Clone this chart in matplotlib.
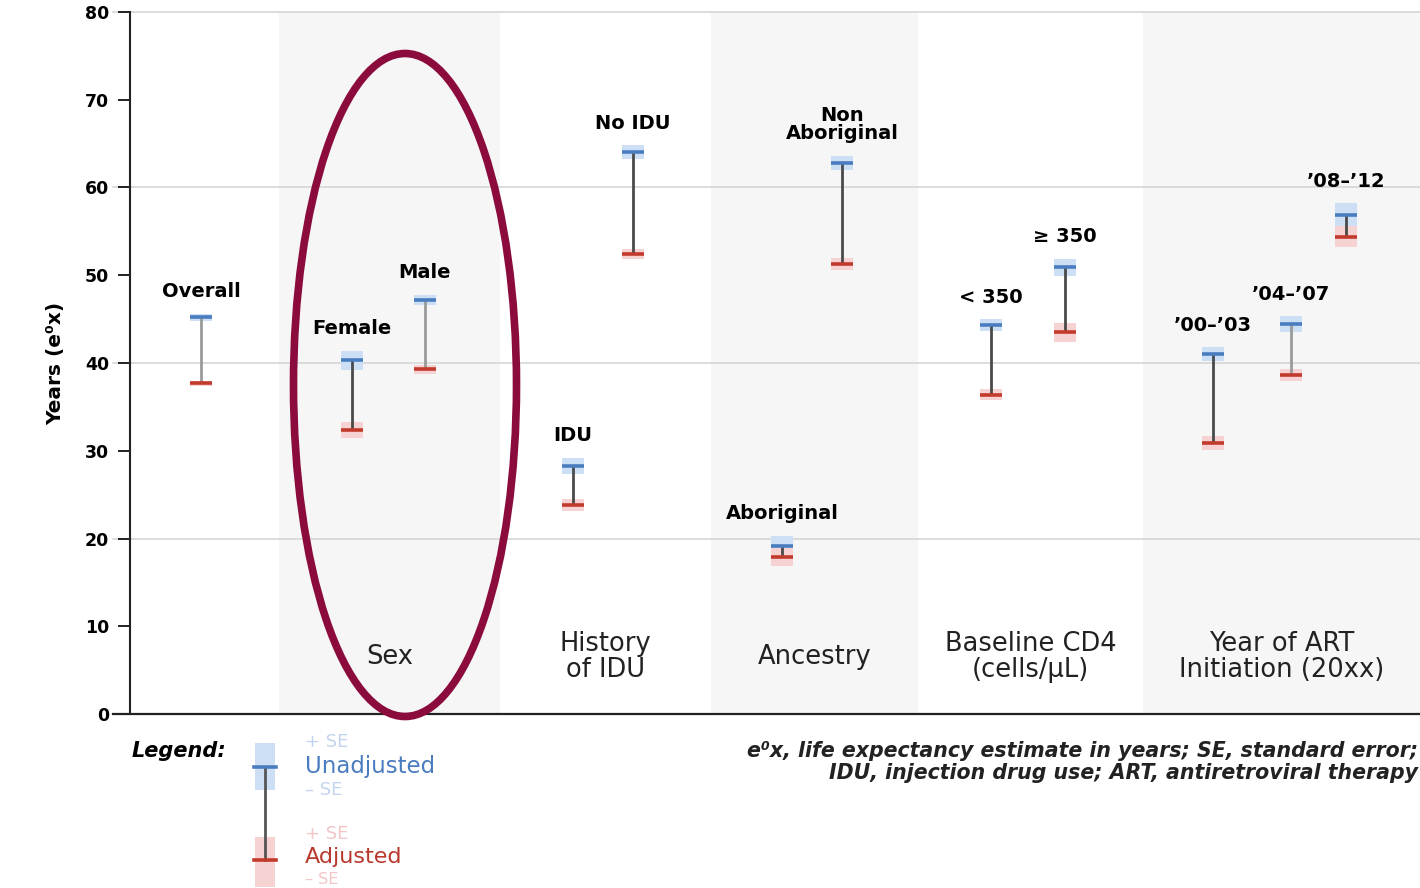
import numpy as np
import matplotlib.pyplot as plt
from matplotlib.patches import Ellipse, Rectangle
from matplotlib.lines import Line2D

plt.rcParams['font.family'] = ['DejaVu Sans']

# data
labels = ['Overall', 'Female', 'Male', 'IDU', 'No IDU', 'Aboriginal', 'Non\nAboriginal',
          '< 350', '\u2265 350', '\u201900\u2013\u201903', '\u201904\u2013\u201907', '\u201908\u2013\u201912']
unadjusted = [45.2, 40.3, 47.2, 28.3, 64.0, 19.1, 62.8, 44.3, 50.9, 41.0, 44.4, 56.9]
unadj_se = [0.4, 1.1, 0.6, 0.9, 0.8, 1.2, 0.8, 0.7, 1.0, 0.8, 0.9, 1.3]
adjusted = [37.7, 32.4, 39.3, 23.8, 52.4, 17.9, 51.3, 36.4, 43.5, 30.9, 38.6, 54.4]
adj_se = [0.3, 0.9, 0.5, 0.7, 0.6, 1.0, 0.7, 0.6, 1.1, 0.8, 0.7, 1.2]
group_names = ['', 'Sex', 'History\nof IDU', 'Ancestry', 'Baseline CD4\n(cells/\u00b5L)',
               'Year of ART\nInitiation (20xx)']

# layout
xpos = [0.71, 2.22, 2.95, 4.43, 5.03, 6.52, 7.12, 8.61, 9.35, 10.83, 11.61, 12.16]
group_edges = [0, 1.49, 3.70, 5.81, 7.88, 10.13, 12.9]
link_dark = [False, True, False, True, True, True, True, True, True, True, False, True]

blue = '#4a7cc0'
red = '#c23a2c'
blue_se = '#cddff4'
red_se = '#f6d2d2'

fig = plt.figure(figsize=(14.2, 8.88), dpi=100)
ax = fig.add_axes([130 / 1420, 1 - 714 / 888, 1290 / 1420, 702 / 888])
ax.set_xlim(0, 12.9)
ax.set_ylim(0, 80)

# shaded groups
for i in (1, 3, 5):
    ax.axvspan(group_edges[i], group_edges[i + 1], color='#f6f6f6', zorder=0, lw=0)

# gridlines every 20, running past the spine
for g in range(0, 81, 20):
    ax.plot([-0.17, 12.9], [g, g], color='#d6d6d6' if g else '#222222',
            lw=1.2 if g else 1.6, clip_on=False, zorder=1)

for s in ['top', 'right', 'bottom']:
    ax.spines[s].set_visible(False)
ax.spines['left'].set_linewidth(1.5)
ax.spines['left'].set_color('#222222')
ax.set_xticks([])
ax.set_yticks(range(0, 81, 10))
ax.tick_params(axis='y', length=9, width=1.4, color='#222222', labelsize=12.5, pad=6)
for t in ax.get_yticklabels():
    t.set_fontweight('bold')
for i, tk in enumerate(ax.yaxis.get_major_ticks()):
    if i % 2 == 0:
        tk.tick1line.set_color('#c8c8c8')
ax.set_ylabel('Years (e\u2070x)', fontsize=14.5, fontweight='bold', labelpad=14)

w = 0.22
for i in range(len(labels)):
    x = xpos[i]
    ax.bar(x, 2 * unadj_se[i], bottom=unadjusted[i] - unadj_se[i], width=w,
           color=blue_se, lw=0, zorder=2)
    ax.bar(x, 2 * adj_se[i], bottom=adjusted[i] - adj_se[i], width=w,
           color=red_se, lw=0, zorder=2)
    ax.vlines(x, adjusted[i], unadjusted[i], color='#4a4a4a' if link_dark[i] else '#9a9a9a',
              lw=2, zorder=3)
    ax.hlines(unadjusted[i], x - w / 2, x + w / 2, color=blue, lw=2.6, zorder=4)
    ax.hlines(adjusted[i], x - w / 2, x + w / 2, color=red, lw=2.6, zorder=4)
    ax.annotate(labels[i], (x, unadjusted[i] + unadj_se[i]), xytext=(0, 9),
                textcoords='offset points', ha='center', va='bottom',
                fontsize=14, fontweight='bold', linespacing=0.95, zorder=5)

for i, name in enumerate(group_names):
    if name:
        ax.text((group_edges[i] + group_edges[i + 1]) / 2, 6.5, name, ha='center',
                va='center', fontsize=18.5, linespacing=1.0, color='#222222')

# highlight ellipse
fig.patches.append(Ellipse((405 / 1420, 1 - 385 / 888), 223 / 1420, 663 / 888,
                           transform=fig.transFigure, fill=False, ec='#8a0b3c', lw=5.5,
                           zorder=10))

# legend drawn by hand
def fx(px):
    return px / 1420


def fy(py):
    return 1 - py / 888


fig.text(fx(132), fy(751), 'Legend:', fontsize=15, fontstyle='italic', fontweight='bold',
         ha='left', va='center')
fig.patches.append(Rectangle((fx(255), fy(790)), 20 / 1420, 47 / 888, transform=fig.transFigure,
                             color=blue_se, lw=0))
fig.patches.append(Rectangle((fx(255), fy(887)), 20 / 1420, 50 / 888, transform=fig.transFigure,
                             color=red_se, lw=0))
fig.lines.append(Line2D([fx(265), fx(265)], [fy(767), fy(860)], transform=fig.transFigure,
                        color='#555555', lw=2))
fig.lines.append(Line2D([fx(254), fx(276)], [fy(767), fy(767)], transform=fig.transFigure,
                        color=blue, lw=2.6))
fig.lines.append(Line2D([fx(254), fx(276)], [fy(860), fy(860)], transform=fig.transFigure,
                        color=red, lw=2.6))
fig.text(fx(305), fy(742), '+ SE', fontsize=13, color='#c3d4ee', va='center')
fig.text(fx(305), fy(766), 'Unadjusted', fontsize=16.5, color=blue, va='center')
fig.text(fx(305), fy(790), '\u2013 SE', fontsize=13, color='#c3d4ee', va='center')
fig.text(fx(305), fy(834), '+ SE', fontsize=13, color='#f2c6c6', va='center')
fig.text(fx(305), fy(857), 'Adjusted', fontsize=16, color='#b8392c', va='center')
fig.text(fx(305), fy(879), '\u2013 SE', fontsize=11.5, color='#f2c6c6', va='center')

fig.text(fx(1418), fy(762),
         'e\u2070x, life expectancy estimate in years; SE, standard error;\n'
         'IDU, injection drug use; ART, antiretroviral therapy',
         fontsize=14.8, fontstyle='italic', fontweight='bold', ha='right', va='center',
         linespacing=1.1, color='#222222')

fig.savefig('out.png', dpi=100)
